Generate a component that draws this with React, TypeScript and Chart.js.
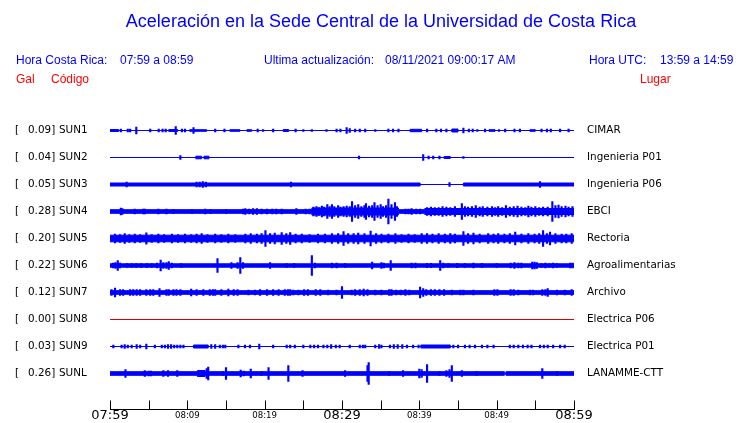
import React, { useEffect, useRef } from 'react';
import { Chart, registerables } from 'chart.js';

Chart.register(...registerables);

// ---- text content ----
const titleText = 'Aceleración en la Sede Central de la Universidad de Costa Rica';
const stationCodes = ['SUN1', 'SUN2', 'SUN3', 'SUN4', 'SUN5', 'SUN6', 'SUN7', 'SUN8', 'SUN9', 'SUNL'];
const peakValues = ['0.09', '0.04', '0.05', '0.28', '0.20', '0.22', '0.12', '0.00', '0.03', '0.26'];
const places = ['CIMAR', 'Ingenieria P01', 'Ingenieria P06', 'EBCI', 'Rectoria', 'Agroalimentarias', 'Archivo', 'Electrica P06', 'Electrica P01', 'LANAMME-CTT'];
const tickMinutes = [0, 5, 10, 15, 20, 25, 30, 35, 40, 45, 50, 55, 60];
const tickLabels = ['07:59', '', '08:09', '', '08:19', '', '08:29', '', '08:39', '', '08:49', '', '08:59'];
const bigTickLabels = ['07:59', '08:29', '08:59'];

// ---- waveform data: minutes since 07:59, amplitude in display units ----
// envelope breakpoints: [minute, half-width of the continuous trace]
const sun1Env = [[0, 1], [1.1, 0], [7.6, 1], [8.75, 0], [10.3, 0.8], [12.5, 0], [15.5, 0.8], [16.8, 0], [17.7, 0.8], [18.3, 0], [22.4, 1], [23.1, 0], [38.8, 1.2], [40.3, 0], [44.2, 1.5], [45.0, 0], [49.0, 0.8], [49.8, 0], [54.3, 0.8], [55.0, 0]];
const sun1Spikes = [[1.4, 1.5], [2.3, 1.5], [2.6, 1.5], [3.4, 3.5], [5.2, 1.5], [6.3, 1.5], [6.8, 1.5], [7.2, 1.5], [8.5, 4], [9.3, 1.5], [9.7, 1.5], [10.8, 3], [13.6, 1.5], [14.8, 1.5], [19.1, 1.5], [19.8, 1], [21.1, 1.5], [24.0, 1.5], [25.0, 1], [26.1, 1], [28.0, 1], [29.3, 1.5], [29.8, 1.5], [30.6, 3], [31.0, 2], [31.7, 1.5], [32.3, 1.5], [33.0, 1.5], [34.3, 1], [36.0, 1.5], [36.6, 1.5], [37.3, 1.5], [41.0, 1.5], [42.2, 1.5], [42.8, 1.5], [43.5, 1.5], [45.7, 2.5], [46.4, 1.5], [46.9, 1.5], [47.5, 1], [48.5, 1.5], [50.3, 1], [51.1, 1.5], [52.3, 1.5], [53.0, 1.5], [55.8, 1.5], [56.5, 1.5], [57.0, 1.5], [58.2, 1.5], [59.3, 1.5]];

const sun2Env = [[0, 0], [11.1, 1.3], [11.85, 0], [12.15, 1.3], [12.8, 0], [43.2, 1], [44.0, 0]];
const sun2Spikes = [[9.1, 2], [32.2, 1.5], [40.5, 3], [41.2, 1.5], [41.8, 1.5], [42.6, 1.5], [45.7, 1]];

const sun3Env = [[0, 1.5], [40.1, 0], [45.7, 1.5]];
const sun3Spikes = [[2.15, 2.5], [11.2, 2.5], [11.6, 2.5], [12.0, 3], [12.4, 2.5], [23.4, 2.5], [43.9, 2], [55.6, 3]];

const sun4Env = [[0, 1.8], [26.1, 3.5], [37.3, 1.8], [40.7, 3]];
const sun4Spikes = [[1.4, 3.5], [1.6, 3], [3.2, 2.5], [4.3, 2.5], [4.5, 2.5], [6.25, 2.5], [7.3, 2.5], [8.2, 2.2], [10.6, 2], [12.3, 2.5], [13.0, 2.2], [15.0, 2.2], [17.2, 2.5], [17.5, 3], [18.0, 2.5], [18.5, 3], [19.0, 2.8], [19.6, 2.5], [20.3, 2.5], [21.0, 2.5], [21.5, 2.5], [22.2, 2.5], [24.1, 3], [25.3, 2.5], [25.8, 2.5],
  [26.3, 4.5], [26.7, 5], [27.0, 4], [27.4, 5.5], [27.7, 4.5], [28.1, 7], [28.4, 5], [28.7, 7], [29.0, 5], [29.5, 6], [29.8, 4.5], [30.2, 5], [30.6, 5.5], [31.0, 5], [31.3, 10], [31.7, 6], [32.1, 7], [32.5, 5], [32.9, 6], [33.1, 8], [33.5, 5.5], [33.9, 6], [34.2, 9], [34.6, 6], [35.0, 7], [35.3, 5], [35.7, 6], [36.0, 12.5], [36.4, 7], [36.85, 9], [37.1, 5],
  [38.2, 2.5], [38.6, 2.5], [39.0, 2.8], [39.6, 2.5], [40.1, 2.5],
  [41.0, 4], [41.5, 4.5], [42.0, 4], [42.5, 4], [43.0, 5], [43.5, 4.5], [44.0, 4], [44.6, 5], [45.5, 8], [45.9, 5], [46.3, 4.5], [46.8, 5], [47.3, 6], [47.8, 4.5], [48.2, 5], [48.8, 4.5], [49.4, 5], [49.8, 4], [50.2, 5], [50.7, 4], [51.2, 6], [51.7, 4.5], [52.2, 5], [52.7, 5.5], [53.2, 4.5], [53.7, 4], [54.1, 5.5], [54.5, 4.5], [55.0, 5], [55.5, 4], [56.0, 4.5], [56.6, 4.5], [57.2, 10], [57.6, 6], [58.0, 6.5], [58.4, 5], [58.9, 5.5], [59.3, 4.5], [59.8, 5]];

const sun5Env = [[0, 3.3]];
const sun5Spikes = [[0.65, 4.5], [1.3, 4], [1.9, 5], [2.5, 4], [3.2, 4.5], [3.9, 4], [4.7, 5.7], [5.4, 4], [6.25, 4.5], [7.0, 4], [8.0, 4.5], [8.8, 4], [9.7, 4.5], [10.5, 4], [11.2, 4.5], [11.85, 5], [12.6, 4], [13.6, 4.5], [14.4, 4], [15.3, 4.5], [16.2, 4], [17.5, 4.5], [18.2, 5], [19.0, 4.5], [19.6, 5], [20.1, 8], [20.7, 5], [21.3, 5.5], [22.2, 6], [22.8, 5], [23.3, 6], [24.0, 4.5], [24.8, 4.5], [25.8, 4], [26.9, 4.5], [27.8, 4.5], [28.7, 5], [29.5, 5], [30.2, 7], [30.8, 5], [31.5, 5], [32.1, 5.5], [32.9, 5], [33.7, 7.5], [34.4, 5], [35.1, 4.5], [36.0, 4.5], [36.9, 5], [37.7, 4], [38.6, 4.5], [39.4, 4], [40.3, 5], [41.0, 5], [41.7, 4.5], [42.5, 5], [43.3, 4.5], [44.0, 5], [44.6, 4.5], [45.7, 7], [46.3, 5], [47.0, 5.5], [47.8, 4.5], [48.9, 5], [49.6, 4.5], [50.2, 5], [51.0, 4.5], [51.7, 5], [52.4, 6.5], [53.2, 4.5], [54.1, 5], [54.9, 4.5], [55.5, 5], [56.0, 8], [56.5, 5], [56.9, 6.5], [57.6, 5], [58.4, 4.5], [59.0, 4.5], [59.7, 5]];

const sun6Env = [[0, 1.7]];
const sun6Spikes = [[0.4, 2.5], [0.7, 3], [1.0, 5], [1.3, 2.5], [2.2, 2], [2.8, 2], [3.4, 1.8], [4.0, 2], [4.8, 2], [5.4, 2], [6.1, 2.5], [6.55, 5.5], [6.9, 3], [7.3, 3], [7.6, 4], [8.0, 2.5], [9.2, 1.8], [13.9, 7], [15.7, 3], [16.5, 3], [16.85, 8], [17.2, 3], [20.7, 3], [22.85, 2], [23.8, 2], [26.1, 10], [26.5, 2.5], [28.7, 2.5], [29.3, 2.5], [30.4, 2], [33.9, 3.5], [35.1, 3], [35.4, 2.5], [36.3, 5], [39.0, 2.5], [39.5, 2.5], [41.0, 2.2], [41.5, 2.2], [42.7, 5], [43.1, 2.5], [43.75, 2], [44.9, 2.2], [45.9, 2], [47.0, 2.5], [48.1, 2.2], [50.0, 2], [51.8, 2.5], [52.3, 3], [52.8, 2.5], [53.2, 2.5], [54.6, 3.5], [54.9, 3.5], [55.2, 3], [55.8, 2], [56.3, 2.5], [56.8, 2], [57.3, 2.5], [57.8, 2], [59.5, 2.5], [59.8, 2.5]];

const sun7Env = [[0, 1.8]];
const sun7Spikes = [[0.2, 3], [0.65, 4.5], [1.3, 3], [1.7, 3], [2.6, 2.8], [3.0, 2.8], [3.45, 3], [3.9, 3], [4.7, 3], [5.2, 3], [5.6, 3], [6.4, 4], [7.3, 3], [7.6, 3], [8.2, 3], [8.6, 3], [9.1, 3], [10.5, 3.5], [11.2, 3], [12.07, 3], [12.9, 3], [13.3, 3], [13.6, 3], [14.4, 3], [15.3, 3.5], [16.0, 3], [16.5, 3], [17.9, 2.5], [18.75, 2.5], [19.4, 3], [20.3, 3], [21.1, 3], [21.8, 3], [22.6, 3], [23.0, 3], [23.3, 3], [23.7, 2.5], [24.35, 2.5], [25.1, 3], [25.6, 3], [26.6, 3], [27.2, 3], [28.2, 2.5], [29.3, 2.5], [30.0, 6], [31.25, 2.5], [31.7, 3], [32.3, 3], [32.8, 3.5], [33.3, 3], [34.3, 2.5], [35.1, 2.5], [36.1, 3], [36.4, 3], [37.0, 2.5], [37.6, 2.5], [38.2, 3], [38.7, 2.5], [40.1, 5.5], [40.5, 4], [40.9, 3], [41.5, 3], [42.0, 3], [42.6, 3], [43.2, 3], [44.2, 2.5], [45.3, 2.5], [45.7, 2.5], [47.0, 2.5], [49.7, 3], [50.1, 3], [51.8, 3], [52.2, 3], [52.8, 2.5], [54.3, 2.5], [54.7, 2.5], [55.9, 3], [56.3, 3], [56.6, 4], [57.8, 2.5], [58.8, 2.5], [59.7, 3]];

const sun8Env = [[0, 0]];
const sun8Spikes: number[][] = [];

const sun9Env = [[0, 0], [10.8, 1.5], [12.7, 0], [40.2, 1.5], [44.0, 0]];
const sun9Spikes = [[0.43, 1.5], [1.5, 1.5], [1.9, 2], [2.3, 1.5], [2.8, 1.5], [3.45, 2], [3.9, 1.5], [4.7, 2.5], [5.8, 1.5], [6.7, 1.5], [7.1, 1.5], [7.5, 2], [7.9, 2], [8.3, 1.5], [8.7, 1.5], [9.1, 1.5], [9.5, 1.5], [13.1, 2], [13.6, 2], [14.2, 1.5], [14.6, 1.5], [14.9, 1.5], [16.6, 1.5], [17.45, 1.5], [18.1, 1.5], [19.3, 2.5], [21.1, 1.5], [22.85, 1.5], [23.3, 1.5], [23.9, 1.5], [25.0, 1.5], [25.9, 1.5], [26.4, 1.5], [26.9, 1.5], [27.6, 1.5], [28.1, 1.5], [28.6, 2], [29.2, 1.5], [29.7, 1.5], [31.0, 1.5], [32.3, 1.5], [32.7, 1.5], [33.0, 1.5], [34.3, 1.5], [34.8, 2], [35.1, 1.5], [36.2, 1.5], [36.7, 2], [37.2, 2], [37.8, 2], [38.4, 1.5], [39.2, 1.5], [39.9, 1.5], [44.4, 1.5], [45.0, 1.5], [45.9, 1.5], [46.5, 1.5], [47.2, 1.5], [48.1, 1.5], [48.8, 1.5], [49.6, 1.5], [51.7, 1.5], [52.2, 1.5], [52.8, 1.5], [53.4, 1.5], [54.0, 1.5], [54.5, 1.5], [55.6, 1.5], [56.1, 1.5], [56.6, 1.5], [57.3, 1.5], [58.2, 1.5], [58.8, 1.5]];

const sunLEnv = [[0, 1.8], [11.3, 3], [12.3, 1.8], [51.0, 0.3], [51.2, 1.8]];
const sunLSpikes = [[2.0, 4], [4.5, 3], [5.0, 2.5], [5.3, 2.5], [6.9, 3], [7.5, 3], [8.7, 3], [12.5, 5], [12.7, 6.5], [14.6, 2], [15.0, 6], [15.9, 1.5], [16.9, 3.5], [17.3, 2.5], [18.2, 4.5], [19.6, 2], [20.5, 6], [23.06, 8], [24.9, 3], [30.4, 3], [33.3, 8], [33.45, 11], [36.1, 2], [37.9, 3], [40.0, 4.5], [40.3, 4], [41.0, 9], [42.6, 2], [43.5, 3], [43.9, 4], [44.2, 8], [45.5, 3], [47.4, 2], [55.9, 5], [57.8, 2]];

const envelopes = [sun1Env, sun2Env, sun3Env, sun4Env, sun5Env, sun6Env, sun7Env, sun8Env, sun9Env, sunLEnv];
const spikeLists = [sun1Spikes, sun2Spikes, sun3Spikes, sun4Spikes, sun5Spikes, sun6Spikes, sun7Spikes, sun8Spikes, sun9Spikes, sunLSpikes];
const traceColors = ['#0000ff', '#0000ff', '#0000ff', '#0000ff', '#0000ff', '#0000ff', '#0000ff', '#dd0000', '#0000ff', '#0000ff'];

const X_MAX = 60;
const ROW_STEP = 27;
const Y_MAX = 306;

function buildDatasets() {
  const ds: any[] = [];
  stationCodes.forEach((_, i) => {
    const c = ROW_STEP * (i + 1);
    const env = envelopes[i];
    const color = traceColors[i];
    const upper = env.map(([t, h]) => ({ x: t, y: c - h }));
    upper.push({ x: X_MAX, y: c - env[env.length - 1][1] });
    const lower = env.map(([t, h]) => ({ x: t, y: c + h }));
    lower.push({ x: X_MAX, y: c + env[env.length - 1][1] });
    ds.push({ type: 'line', data: upper, borderColor: color, backgroundColor: color, borderWidth: 1, pointRadius: 0, stepped: 'before', fill: false, tension: 0 });
    ds.push({ type: 'line', data: lower, borderColor: color, backgroundColor: color, borderWidth: 1, pointRadius: 0, stepped: 'before', fill: '-1', tension: 0 });
    ds.push({
      type: 'bar',
      data: spikeLists[i].map(([t, a]) => ({ x: t, y: [c - a, c + a] })),
      backgroundColor: color,
      borderWidth: 0,
      barThickness: 1.5,
      grouped: false,
    });
  });
  return ds;
}

const textPlugin = {
  id: 'seismoText',
  afterDraw(chart: any) {
    const ctx = chart.ctx as CanvasRenderingContext2D;
    const xs = chart.scales.x;
    const ys = chart.scales.y;
    ctx.save();
    // title & headers
    ctx.textBaseline = 'middle';
    ctx.fillStyle = '#0000ff';
    ctx.font = "18px 'Liberation Sans', Arial, sans-serif";
    ctx.textAlign = 'center';
    ctx.fillText(titleText, 381, 22);
    ctx.textAlign = 'left';
    ctx.font = "12px 'Liberation Sans', Arial, sans-serif";
    ctx.fillText('Hora Costa Rica:', 16, 61);
    ctx.fillText('07:59 a 08:59', 120, 61);
    ctx.fillText('Ultima actualización:', 264, 61);
    ctx.fillText('08/11/2021 09:00:17 AM', 385, 61);
    ctx.fillText('Hora UTC:', 589, 61);
    ctx.fillText('13:59 a 14:59', 660, 61);
    ctx.fillStyle = '#ff0000';
    ctx.fillText('Gal', 16, 80);
    ctx.fillText('Código', 51, 80);
    ctx.fillText('Lugar', 640, 80);

    // station labels
    ctx.fillStyle = '#000000';
    ctx.font = "10.4px 'DejaVu Sans', sans-serif";
    stationCodes.forEach((code, i) => {
      const y = ys.getPixelForValue(ROW_STEP * (i + 1));
      ctx.fillText('[', 15, y);
      ctx.fillText(peakValues[i] + ']', 28, y);
      ctx.fillText(code, 59, y);
      ctx.fillText(places[i], 587, y);
    });

    // time axis
    const axisY = chart.chartArea.bottom;
    ctx.strokeStyle = '#000000';
    ctx.lineWidth = 1;
    ctx.beginPath();
    ctx.moveTo(Math.round(xs.getPixelForValue(0)), axisY);
    ctx.lineTo(Math.round(xs.getPixelForValue(X_MAX)) + 1, axisY);
    tickMinutes.forEach((m) => {
      const px = Math.round(xs.getPixelForValue(m)) + 0.5;
      ctx.moveTo(px, axisY - 9);
      ctx.lineTo(px, axisY);
    });
    ctx.stroke();
    ctx.textAlign = 'center';
    tickMinutes.forEach((m, k) => {
      const label = tickLabels[k];
      if (!label) return;
      const big = bigTickLabels.includes(label);
      ctx.font = big ? "13px 'DejaVu Sans', sans-serif" : "8.6px 'DejaVu Sans', sans-serif";
      ctx.fillText(label, xs.getPixelForValue(m), axisY + 6.5);
    });
    ctx.restore();
  },
};

export default function App() {
  const ref = useRef<HTMLCanvasElement>(null);
  useEffect(() => {
    const chart = new Chart(ref.current as HTMLCanvasElement, {
      type: 'line',
      data: { datasets: buildDatasets() },
      options: {
        responsive: false,
        animation: false,
        devicePixelRatio: 1,
        layout: { padding: { left: 110, right: 166, top: 103.5, bottom: 13.5 } },
        plugins: { legend: { display: false }, tooltip: { enabled: false } },
        scales: {
          x: { type: 'linear', min: 0, max: X_MAX, display: false, offset: false },
          y: { type: 'linear', min: 0, max: Y_MAX, reverse: true, display: false },
        },
      } as any,
      plugins: [textPlugin],
    });
    return () => chart.destroy();
  }, []);
  return (
    <div style={{ position: 'absolute', left: 0, top: 0, width: 740, height: 423, background: '#ffffff' }}>
      <canvas ref={ref} width={740} height={423} style={{ display: 'block', width: 740, height: 423 }} />
    </div>
  );
}
